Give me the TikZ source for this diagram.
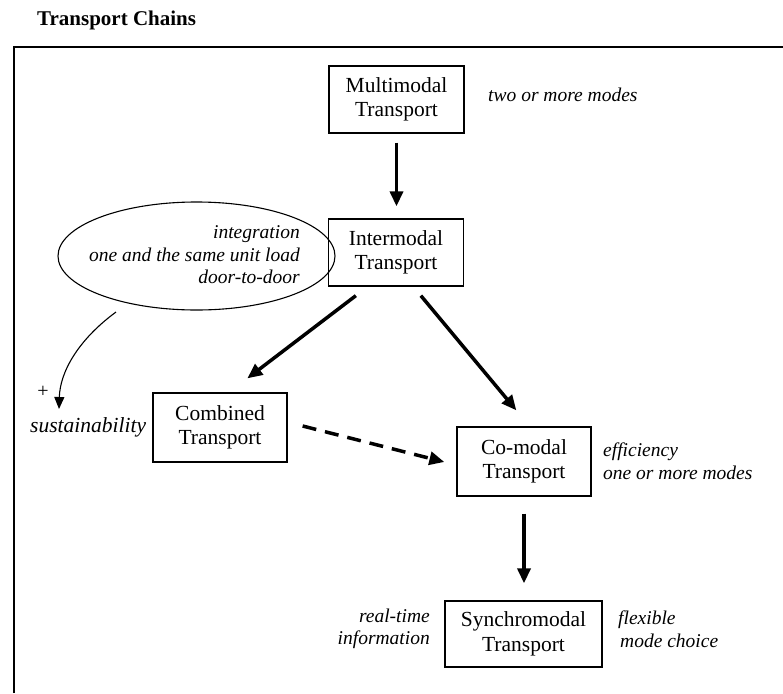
\documentclass[tikz,border=0pt]{standalone}
\usepackage{fontspec}
\setmainfont{Liberation Serif}
\usetikzlibrary{arrows.meta,shapes.geometric,calc}
\begin{document}
\begin{tikzpicture}[x=1pt,y=-1pt,
  tbox/.style={draw,line width=1.3pt,align=center,inner sep=0pt,font=\fontsize{21.5}{24.5}\selectfont},
  itl/.style={font=\fontsize{19.5}{22.5}\selectfont\itshape,inner sep=0pt},
  bigarrow/.style={line width=3.5pt,-{Triangle[length=15pt,width=13pt]}},
  thinarrow/.style={line width=1.1pt,-{Triangle[length=12pt,width=10pt]}},
]
\useasboundingbox (0,0) rectangle (783,693);
\fill[white] (0,0) rectangle (783,693);
\node[font=\fontsize{21}{24}\selectfont\bfseries, anchor=west, inner sep=0pt] (title) at (37,20) {Transport Chains};
\draw[line width=1.8pt] (14,693) -- (14,47) -- (783,47);

\node[tbox,minimum width=135pt,minimum height=67pt] (multi) at (396.5,99.5) {Multimodal\\Transport};
\node[tbox,minimum width=135pt,minimum height=67pt] (inter) at (396,252.5) {Intermodal\\Transport};
\node[tbox,minimum width=134pt,minimum height=69pt] (comb) at (220,427.5) {Combined\\Transport};
\node[tbox,minimum width=134pt,minimum height=69pt] (como) at (524,461.5) {Co-modal\\Transport};
\node[tbox,minimum width=157pt,minimum height=66pt] (sync) at (523.5,634) {Synchromodal\\Transport};

\node[itl,anchor=west] (twomore) at (488,95) {two or more modes};
\node[itl,anchor=west,align=left] (eff) at (603,461) {efficiency\\one or more modes};
\node[itl,anchor=east,align=right] (rt) at (430,629) {real-time\\information};
\node[itl,anchor=west,align=left] (flex) at (618,629) {flexible\\\hspace*{2pt}mode choice};

\node[ellipse,draw,line width=1.1pt,minimum width=277pt,minimum height=108pt,inner sep=0pt] (ell) at (196.5,256) {};
\node[itl,align=right,anchor=east] (elltext) at (300,255) {integration\\one and the same unit load\\door-to-door};

\node[font=\fontsize{21.5}{24}\selectfont\itshape, anchor=base west, inner sep=0pt] (sust) at (30,432) {sustainability};
\node[font=\fontsize{20}{22}\selectfont, inner sep=0pt] (plus) at (43,392) {+};
\coordinate (cs) at (116,312);
\coordinate (ce) at (59,409);
\draw[thinarrow] (cs) .. controls (78,340) and (60,372) .. (ce);

\draw[bigarrow,shorten <=9pt,shorten >=12pt] (multi.south) -- (multi.south |- inter.north);
\draw[bigarrow] ([xshift=28pt,yshift=-9pt]inter.south west) -- ([xshift=95pt,yshift=14pt]comb.north west);
\draw[bigarrow] ([xshift=93pt,yshift=-9pt]inter.south west) -- ([xshift=60pt,yshift=16pt]como.north west);
\draw[bigarrow,dash pattern=on 14pt off 9pt] ([xshift=15pt,yshift=1.5pt]comb.east) -- ([xshift=-12pt,yshift=-0.5pt]como.west);
\draw[bigarrow,shorten <=17pt,shorten >=17pt] (como.south) -- (como.south |- sync.north);
\end{tikzpicture}
\end{document}
